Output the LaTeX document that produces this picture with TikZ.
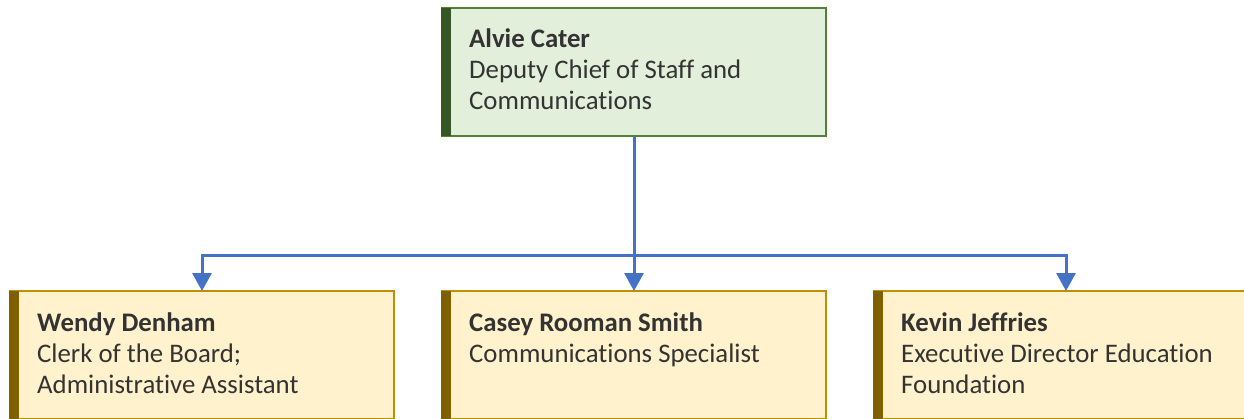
\documentclass[tikz,border=0pt]{standalone}
\usepackage{fontspec}
\setmainfont[Ligatures={NoCommon}]{Carlito}
\usepackage{xcolor}
\usepackage{tikz}
\usetikzlibrary{positioning,calc,arrows.meta}

\definecolor{leadfill}{HTML}{E2EFDA}
\definecolor{leadline}{HTML}{548235}
\definecolor{leadbar}{HTML}{375623}
\definecolor{stafffill}{HTML}{FFF2CC}
\definecolor{staffline}{HTML}{BF9000}
\definecolor{staffbar}{HTML}{7F6000}
\definecolor{linkblue}{HTML}{4472C4}
\definecolor{inkgray}{HTML}{333333}

\begin{document}
\begin{tikzpicture}[x=1pt,y=-1pt,
    card/.style={rectangle, line width=2pt, minimum width=384pt, minimum height=128pt,
        inner sep=0pt, outer sep=0pt, anchor=north west},
    lead/.style={card, draw=leadline, fill=leadfill},
    staff/.style={card, draw=staffline, fill=stafffill},
    label/.style={anchor=north west, align=left, inner sep=0pt, text=inkgray,
        font=\fontsize{26.8}{31}\selectfont},
    link/.style={draw=linkblue, line width=3pt},
    tip/.style={-{Triangle[length=18pt,width=19pt]}}]
    \useasboundingbox (0,0) rectangle (1244,418);
    % the boxes
    \node[lead] (alvie) at (442,8) {};
    \node[staff] (wendy) at (10,291) {};
    \node[staff] (casey) at (442,291) {};
    \node[staff] (kevin) at (874,291) {};
    % coloured bars on the left side
    \fill[leadbar] ([xshift=-1pt]alvie.north west) rectangle ++(10,128);
    \foreach \n in {wendy,casey,kevin}
        \fill[staffbar] ([xshift=-1pt]\n.north west) rectangle ++(10,128);
    % texts (first baseline about 40pt under the top edge)
    \node[label] (alvie-txt) at ([xshift=27pt,yshift=-17.5pt]alvie.north west)
        {\strut\textbf{Alvie Cater}\\Deputy Chief of Staff and\\Communications};
    \node[label] (wendy-txt) at ([xshift=27pt,yshift=-18.5pt]wendy.north west)
        {\strut\textbf{Wendy Denham}\\Clerk of the Board;\\Administrative Assistant};
    \node[label] (casey-txt) at ([xshift=27pt,yshift=-18.5pt]casey.north west)
        {\strut\textbf{Casey Rooman Smith}\\Communications Specialist};
    \node[label] (kevin-txt) at ([xshift=27pt,yshift=-18.5pt]kevin.north west)
        {\strut\textbf{Kevin Jeffries}\\Executive Director Education\\Foundation};
    % connectors
    \coordinate (split) at (alvie.south |- 0,255);
    \draw[link] (alvie.south) -- (split);
    \draw[link, tip] (split) -| (wendy.north);
    \draw[link, tip] (split) -- (casey.north);
    \draw[link, tip] (split) -| (kevin.north);
\end{tikzpicture}
\end{document}
